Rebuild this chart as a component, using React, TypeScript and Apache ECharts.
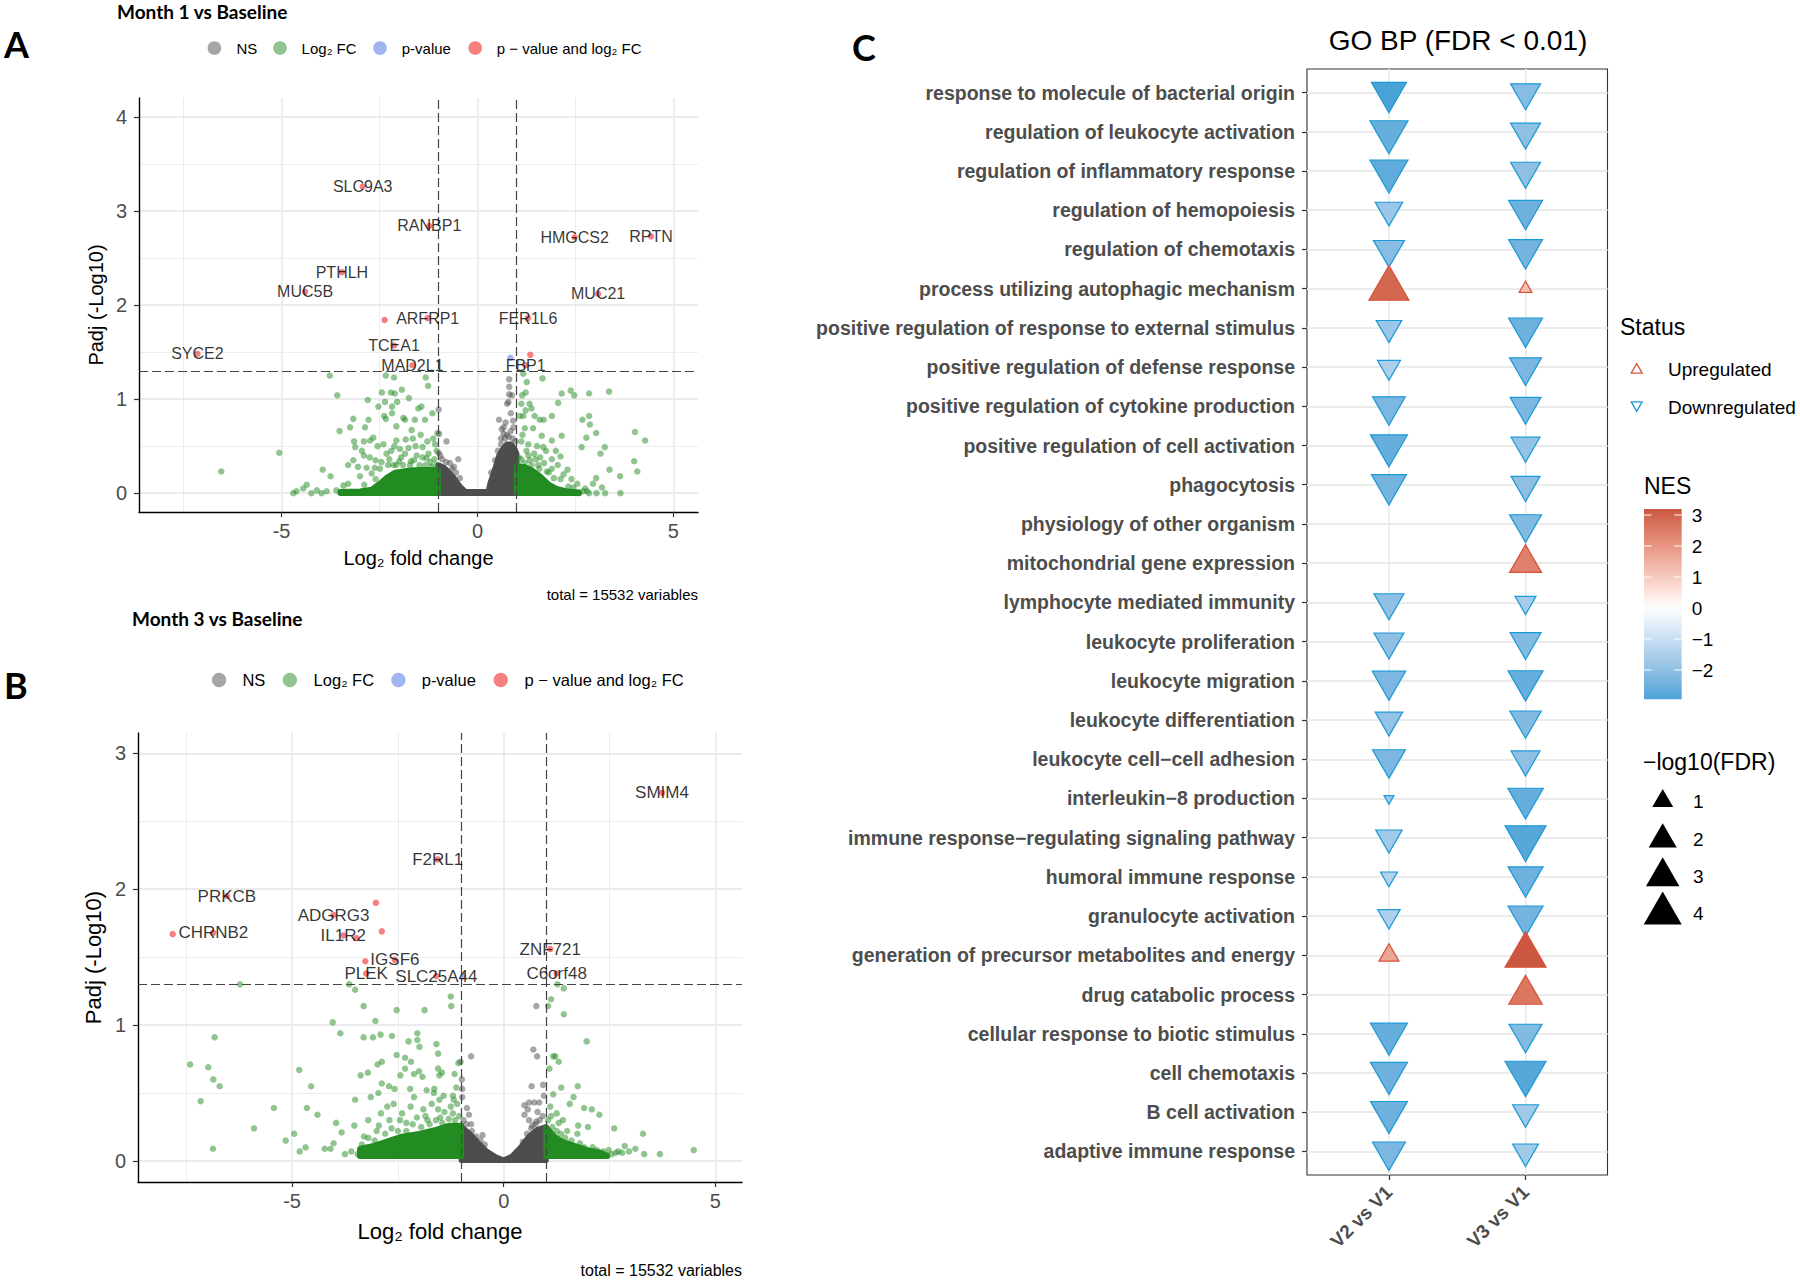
import React, { useEffect, useRef } from "react";
import * as echarts from "echarts";

const FONT = "'Liberation Sans', Arial, Helvetica, sans-serif";
const HEAD_FONT = "Lato, 'Open Sans', 'Liberation Sans', sans-serif";

// ---------------- Volcano plots: ticks / cut-offs ----------------
const volcanoXRange = [-8.64, 5.63];
const volcanoXTicks = [-5, 0, 5];
const volcanoXMinor = [-7.5, -2.5, 2.5];
const aYRange = [-0.2, 4.2];
const aYTicks = [0, 1, 2, 3, 4];
const aYMinor = [0.5, 1.5, 2.5, 3.5];
const bYRange = [-0.155, 3.15];
const bYTicks = [0, 1, 2, 3];
const bYMinor = [0.5, 1.5, 2.5];
const fcCutoffs = [-1, 1];
const pCutoff = 1.3;
const legendLabels = ["NS", "Log₂ FC", "p-value", "p − value and log₂ FC"];

// ---------------- Panel A: Month 1 vs Baseline ----------------
const aNsCore = [[-1, 0], [-1, 0.3], [-0.85, 0.27], [-0.7, 0.21], [-0.6, 0.16], [-0.5, 0.1], [-0.4, 0.05], [-0.3, 0.015], [0.28, 0.015], [0.32, 0.1], [0.4, 0.2], [0.48, 0.3], [0.55, 0.4], [0.65, 0.47], [0.75, 0.52], [0.85, 0.52], [0.95, 0.47], [1, 0.42], [1, 0]];
const aFcCoreLeft = [[-3.5, 0], [-3.5, 0.015], [-3.0, 0.02], [-2.7, 0.04], [-2.5, 0.1], [-2.3, 0.17], [-2.1, 0.22], [-1.8, 0.24], [-1.5, 0.25], [-1.2, 0.25], [-1.0, 0.25], [-1.0, 0]];
const aFcCoreRight = [[1, 0], [1, 0.28], [1.2, 0.28], [1.4, 0.24], [1.6, 0.18], [1.8, 0.1], [2.0, 0.05], [2.3, 0.02], [2.6, 0.01], [2.6, 0]];
const aNs = [
  [-0.99, 0.89], [-0.99, 0.43], [-0.98, 0.63], [-0.79, 0.55], [-0.49, 0.36], [-0.95, 0.4], [-0.6, 0.28], [-0.7, 0.32], [0.81, 1.21], [0.81, 1.13],
  [0.81, 1.05], [0.79, 0.97], [0.55, 0.78], [0.67, 0.7], [0.91, 0.77], [0.75, 0.62], [0.67, 0.63], [0.85, 0.66], [0.92, 0.7], [0.6, 0.58],
  [0.88, 1.04], [0.76, 0.95], [-0.9, 0.36], [-0.8, 0.33], [-0.65, 0.26], [-0.55, 0.22], [-0.45, 0.16], [0.35, 0.22], [0.45, 0.35], [0.52, 0.45],
  [0.6, 0.52], [0.7, 0.58], [0.8, 0.6], [0.9, 0.58], [0.97, 0.55], [0.62, 0.68], [0.72, 0.75], [0.85, 0.85]
];
const aFc = [
  [-6.54, 0.23], [-5.06, 0.43], [-4.7, 0.0], [-4.62, 0.02], [-4.45, 0.05], [-4.36, 0.09], [-4.24, 0.0], [-3.98, 0.0], [-3.95, 0.25], [-3.75, 0.18],
  [-3.77, 1.25], [-3.58, 1.04], [-3.52, 0.66], [-3.42, 0.08], [-3.25, 0.7], [-3.17, 0.79], [-3.15, 0.55], [-3.12, 0.49], [-3.17, 0.35], [-2.87, 0.7],
  [-2.8, 0.99], [-2.78, 0.78], [-2.83, 0.27], [-2.74, 0.56], [-2.66, 0.59], [-2.53, 0.92], [-2.44, 1.07], [-2.36, 0.97], [-2.38, 0.82], [-2.34, 0.79],
  [-2.32, 0.42], [-2.21, 1.07], [-2.18, 0.92], [-2.18, 0.85], [-2.13, 1.23], [-2.11, 1.06], [-2.07, 0.71], [-2.07, 0.56], [-1.93, 1.1], [-2.05, 0.97],
  [-1.89, 0.8], [-1.85, 0.78], [-1.83, 0.57], [-1.68, 0.67], [-1.6, 0.78], [-1.51, 0.9], [-1.43, 0.92], [-1.34, 0.78], [-1.4, 0.49], [-1.32, 1.23],
  [-1.26, 1.14], [-1.3, 0.37], [-1.13, 0.58], [-1.04, 0.45], [-1.02, 0.64], [-1.76, 0.48], [-1.7, 0.34], [-2.07, 0.3], [-2.28, 0.3], [-2.49, 0.26],
  [-2.7, 0.21], [-3.0, 0.18], [-2.89, 0.09], [-1.95, 0.38], [-1.55, 0.4], [-1.2, 0.33], [-2.2, 0.45], [-2.6, 0.35], [-1.45, 0.62], [-2.9, 0.4],
  [-3.3, 0.1], [-2.6, 0.15], [-1.15, 0.85], [-1.75, 1.01], [-2.55, 0.5], [-2.34, 1.25],
  [-3.3, 0.3], [-3.05, 0.28], [-2.95, 0.45], [-2.75, 0.38], [-2.62, 0.27], [-2.45, 0.33], [-2.4, 0.52], [-2.25, 0.36], [-2.15, 0.3], [-2.0, 0.34],
  [-1.98, 0.47], [-1.9, 0.3], [-1.85, 0.42], [-1.72, 0.3], [-1.62, 0.35], [-1.58, 0.5], [-1.48, 0.3], [-1.4, 0.38], [-1.33, 0.3], [-1.25, 0.42],
  [-1.18, 0.28], [-1.1, 0.36], [-1.05, 0.3], [-1.65, 0.58], [-2.12, 0.5], [-2.9, 0.55], [-1.28, 0.55], [-1.08, 0.52], [-3.6, 0.03], [-3.85, 0.02],
  [-4.1, 0.03],
  [1.17, 1.27], [1.66, 1.22], [1.26, 1.18], [1.14, 1.04], [1.23, 1.07], [2.15, 1.06], [2.38, 1.09], [2.47, 1.04], [2.85, 1.06], [3.36, 1.08],
  [1.12, 0.95], [1.33, 0.95], [1.23, 0.88], [1.38, 0.9], [1.17, 0.82], [1.46, 0.82], [1.59, 0.78], [1.69, 0.78], [1.9, 0.82], [2.06, 0.96],
  [2.68, 0.78], [2.85, 0.82], [2.87, 0.73], [3.03, 0.64], [2.78, 0.59], [2.66, 0.49], [3.25, 0.49], [3.14, 0.42], [3.37, 0.25], [3.03, 0.16],
  [3.64, 0.18], [4.02, 0.65], [4.28, 0.56], [4.0, 0.34], [4.08, 0.23], [3.18, 0.06], [3.65, 0.0], [2.85, 0.0], [3.04, 0.0], [3.26, 0.0],
  [2.58, 0.0], [2.15, 0.61], [2.12, 0.39], [1.9, 0.36], [1.64, 0.61], [1.42, 0.69], [1.21, 0.69], [1.9, 0.56], [1.68, 0.49], [1.9, 0.26],
  [2.12, 0.15], [2.32, 0.07], [2.45, 0.06], [1.77, 0.23], [1.33, 0.35], [1.55, 0.3], [1.12, 0.55], [1.08, 0.82], [1.45, 0.42], [1.25, 0.45],
  [1.6, 0.38], [2.0, 0.45], [2.3, 0.25], [1.05, 0.38], [2.75, 0.05], [2.95, 0.1],
  [1.05, 0.3], [1.12, 0.36], [1.2, 0.32], [1.3, 0.4], [1.38, 0.3], [1.48, 0.36], [1.52, 0.5], [1.58, 0.26], [1.7, 0.32], [1.75, 0.45],
  [1.82, 0.22], [1.95, 0.16], [2.05, 0.3], [2.2, 0.2], [2.4, 0.15], [2.55, 0.1], [2.7, 0.02], [1.15, 0.62], [1.3, 0.52], [2.8, 0.02]
];
const aPval = [[0.84, 1.44]];
const aBothUnlabelled = [[-2.37, 1.84], [1.35, 1.47]];
const aGeneNames = ["SLC9A3", "RANBP1", "HMGCS2", "RPTN", "PTHLH", "MUC5B", "MUC21", "ARFRP1", "FER1L6", "TCEA1", "SYCE2", "MAD2L1", "FBP1"];
const aGenePoints = [[-2.93, 3.26], [-1.23, 2.84], [2.48, 2.72], [4.43, 2.73], [-3.46, 2.35], [-4.4, 2.14], [3.08, 2.12], [-1.27, 1.86], [1.29, 1.86], [-2.13, 1.57], [-7.15, 1.48], [-1.66, 1.36], [1.23, 1.36]];

// ---------------- Panel B: Month 3 vs Baseline ----------------
const bNsCore = [[-1, 0.005], [-1, 0.25], [-0.8, 0.2], [-0.6, 0.13], [-0.4, 0.07], [-0.2, 0.03], [0, 0.005], [0.2, 0.035], [0.4, 0.1], [0.6, 0.18], [0.8, 0.23], [1, 0.25], [1, 0.005]];
const bFcCoreLeft = [[-3.4, 0.035], [-3.4, 0.09], [-3.1, 0.11], [-2.8, 0.14], [-2.4, 0.18], [-2.0, 0.2], [-1.6, 0.23], [-1.3, 0.26], [-1.0, 0.26], [-1.0, 0.035]];
const bFcCoreRight = [[1, 0.035], [1, 0.25], [1.2, 0.18], [1.4, 0.14], [1.7, 0.11], [2.0, 0.08], [2.3, 0.06], [2.45, 0.04], [2.45, 0.035]];
const bNs = [
  [-1.02, 0.73], [-0.99, 0.6], [-0.98, 0.53], [-0.98, 0.47], [-0.77, 0.77], [-0.87, 0.39], [-0.82, 0.34], [-0.77, 0.27], [-0.5, 0.19], [0.7, 0.82],
  [0.79, 0.77], [0.77, 1.14], [0.66, 0.55], [0.49, 0.41], [0.6, 0.43], [0.72, 0.43], [0.84, 0.43], [0.49, 0.34], [0.57, 0.38], [0.93, 0.56],
  [0.95, 0.48], [0.77, 0.29], [0.68, 0.26], [-0.95, 0.3], [-0.88, 0.27], [-0.75, 0.22], [-0.65, 0.18], [-0.55, 0.15], [-0.45, 0.12], [0.45, 0.14],
  [0.55, 0.2], [0.65, 0.24], [0.75, 0.27], [0.85, 0.3], [0.92, 0.33], [0.6, 0.3], [0.8, 0.36]
];
const bFc = [
  [-7.41, 0.71], [-7.16, 0.44], [-6.98, 0.69], [-6.86, 0.6], [-6.83, 0.91], [-6.71, 0.55], [-6.87, 0.09], [-6.23, 1.3], [-5.9, 0.24], [-5.43, 0.39],
  [-5.15, 0.15], [-4.95, 0.2], [-4.83, 0.67], [-4.82, 0.07], [-4.68, 0.1], [-4.65, 0.39], [-4.55, 0.55], [-4.4, 0.34], [-4.23, 0.09], [-4.09, 0.09],
  [-4.04, 1.02], [-4.02, 0.13], [-3.96, 0.28], [-3.86, 0.94], [-3.83, 0.21], [-3.65, 1.3], [-3.51, 1.26], [-3.53, 0.26], [-3.51, 0.45], [-3.38, 0.63],
  [-3.31, 1.14], [-3.31, 0.91], [-3.21, 0.65], [-3.14, 0.47], [-3.09, 0.91], [-3.03, 1.03], [-2.96, 0.5], [-2.98, 0.71], [-2.91, 0.93], [-2.88, 0.73],
  [-2.88, 0.57], [-2.71, 0.55], [-2.64, 0.92], [-2.58, 0.53], [-2.53, 1.11], [-2.53, 0.78], [-2.44, 0.63], [-2.33, 0.76], [-2.33, 0.68], [-2.25, 0.88],
  [-2.21, 0.53], [-2.19, 0.73], [-2.12, 0.64], [-2.12, 0.47], [-2.04, 0.89], [-2.04, 0.94], [-2.0, 0.66], [-1.99, 0.84], [-1.87, 1.11], [-1.92, 0.62],
  [-1.82, 0.52], [-1.65, 0.5], [-1.64, 0.53], [-1.59, 0.86], [-1.55, 0.79], [-1.55, 0.68], [-1.52, 0.63], [-1.52, 0.45], [-1.46, 0.65], [-1.42, 0.48],
  [-1.24, 1.14], [-1.25, 1.21], [-1.2, 0.48], [-1.16, 0.64], [-1.18, 0.45], [-1.12, 0.54], [-1.07, 0.72], [-3.2, 0.3], [-2.9, 0.35], [-2.7, 0.3],
  [-2.4, 0.35], [-2.2, 0.4], [-1.9, 0.38], [-1.7, 0.42], [-1.4, 0.36], [-1.2, 0.35], [-2.6, 0.42], [-3.0, 0.22], [-3.3, 0.18], [-1.8, 0.3],
  [-2.3, 0.28], [-1.5, 0.32],
  [-3.35, 0.12], [-3.2, 0.17], [-3.05, 0.15], [-2.95, 0.26], [-2.8, 0.2], [-2.65, 0.24], [-2.5, 0.22], [-2.45, 0.3], [-2.3, 0.22], [-2.15, 0.27],
  [-2.05, 0.32], [-1.95, 0.25], [-1.85, 0.33], [-1.75, 0.27], [-1.6, 0.3], [-1.55, 0.38], [-1.45, 0.28], [-1.3, 0.31], [-1.25, 0.4], [-1.15, 0.3],
  [-1.05, 0.33], [-1.1, 0.42], [-2.75, 0.4], [-3.45, 0.05], [-3.6, 0.07], [-3.75, 0.05],
  [1.27, 1.3], [1.42, 1.27], [1.05, 1.14], [1.12, 1.19], [1.42, 1.08], [1.08, 0.68], [1.17, 0.77], [1.22, 0.77], [1.3, 0.73], [1.17, 0.49],
  [1.36, 0.54], [1.56, 0.42], [1.65, 0.47], [1.75, 0.55], [1.96, 0.88], [1.9, 0.39], [2.08, 0.38], [2.26, 0.34], [1.99, 0.25], [1.74, 0.2],
  [1.76, 0.26], [2.61, 0.24], [3.29, 0.2], [2.86, 0.11], [3.11, 0.09], [3.32, 0.05], [3.69, 0.05], [4.49, 0.08], [2.48, 0.08], [2.71, 0.07],
  [2.96, 0.07], [1.1, 0.4], [1.25, 0.35], [1.4, 0.3], [1.5, 0.22],
  [1.05, 0.3], [1.15, 0.25], [1.25, 0.22], [1.35, 0.2], [1.45, 0.17], [1.6, 0.15], [1.8, 0.13], [1.9, 0.1], [2.1, 0.1], [2.2, 0.08],
  [2.35, 0.07], [2.55, 0.05], [2.65, 0.06], [1.12, 0.33], [1.3, 0.28], [2.8, 0.06]
];
const bPval = [[-0.96, 1.36]];
const bBothUnlabelled = [[-3.02, 1.9], [-2.88, 1.69], [-7.82, 1.67], [-3.48, 1.64], [-3.27, 1.47]];
const bGeneNames = ["SMIM4", "F2RL1", "PRKCB", "ADGRG3", "CHRNB2", "IL1R2", "IGSF6", "PLEK", "SLC25A44", "ZNF721", "C6orf48"];
const bGenePoints = [[3.74, 2.71], [-1.56, 2.22], [-6.54, 1.95], [-4.02, 1.81], [-6.86, 1.68], [-3.79, 1.66], [-2.57, 1.48], [-3.25, 1.38], [-1.59, 1.36], [1.1, 1.56], [1.25, 1.38]];

// ---------------- Panel C: GO BP (FDR < 0.01) ----------------
const goTerms = [
  "response to molecule of bacterial origin",
  "regulation of leukocyte activation",
  "regulation of inflammatory response",
  "regulation of hemopoiesis",
  "regulation of chemotaxis",
  "process utilizing autophagic mechanism",
  "positive regulation of response to external stimulus",
  "positive regulation of defense response",
  "positive regulation of cytokine production",
  "positive regulation of cell activation",
  "phagocytosis",
  "physiology of other organism",
  "mitochondrial gene expression",
  "lymphocyte mediated immunity",
  "leukocyte proliferation",
  "leukocyte migration",
  "leukocyte differentiation",
  "leukocyte cell−cell adhesion",
  "interleukin−8 production",
  "immune response−regulating signaling pathway",
  "humoral immune response",
  "granulocyte activation",
  "generation of precursor metabolites and energy",
  "drug catabolic process",
  "cellular response to biotic stimulus",
  "cell chemotaxis",
  "B cell activation",
  "adaptive immune response",
];
const comparisons = ["V2 vs V1", "V3 vs V1"];
const v2Nes = [-2.94, -2.6, -2.7, -1.8, -2.1, 2.9, -1.8, -1.5, -2.3, -2.6, -2.4, null, null, -2.0, -2.0, -2.3, -1.9, -2.3, -1.7, -1.7, -1.4, -1.5, 1.7, null, -2.6, -2.5, -2.5, -2.3];
const v2LogFdr = [3.33, 4.0, 4.0, 1.91, 2.52, 4.48, 1.61, 1.25, 2.85, 3.77, 3.33, null, null, 2.34, 2.34, 3.01, 1.91, 2.91, 0.12, 1.75, 0.58, 1.18, 0.89, null, 3.77, 3.77, 3.77, 2.91];
const v3Nes = [-2.1, -2.0, -2.0, -2.5, -2.4, 1.2, -2.5, -2.3, -2.3, -1.9, -2.0, -2.2, 2.4, -1.6, -2.2, -2.6, -2.2, -2.0, -2.6, -2.8, -2.5, -2.4, 3.19, 2.6, -2.2, -2.8, -1.7, -1.7];
const v3LogFdr = [2.34, 2.34, 2.34, 3.11, 3.11, 0.28, 3.11, 2.71, 2.52, 2.16, 2.16, 2.71, 2.71, 1.0, 2.52, 3.33, 2.62, 2.16, 3.43, 4.74, 3.33, 3.33, 4.74, 3.01, 2.91, 4.74, 1.67, 1.67];
const nesTicks = [3, 2, 1, 0, -1, -2];
const fdrLegendValues = [1, 2, 3, 4];
const statusLabels = ["Upregulated", "Downregulated"];

// ---------------- colours ----------------
const NS_COL = "#4D4D4D";
const FC_COL = "#228B22";
const P_COL = "#4169E1";
const BOTH_COL = "#EE0000";
const UP_COL = "#D9533C";
const DOWN_COL = "#1A9AD6";
const NES_LOW = "#2E9CD4";
const NES_HIGH = "#CC5740";

function hexToRgb(h: string) {
  const n = parseInt(h.slice(1), 16);
  return [(n >> 16) & 255, (n >> 8) & 255, n & 255];
}
function rgbToLab(c: number[]) {
  const lin = c.map((v) => {
    const s = v / 255;
    return s <= 0.04045 ? s / 12.92 : Math.pow((s + 0.055) / 1.055, 2.4);
  });
  const X = (0.4124 * lin[0] + 0.3576 * lin[1] + 0.1805 * lin[2]) / 0.95047;
  const Y = 0.2126 * lin[0] + 0.7152 * lin[1] + 0.0722 * lin[2];
  const Z = (0.0193 * lin[0] + 0.1192 * lin[1] + 0.9505 * lin[2]) / 1.08883;
  const f = (t: number) => (t > 0.008856 ? Math.cbrt(t) : 7.787 * t + 16 / 116);
  const fx = f(X), fy = f(Y), fz = f(Z);
  return [116 * fy - 16, 500 * (fx - fy), 200 * (fy - fz)];
}
function labToHex(l: number[]) {
  const fy = (l[0] + 16) / 116;
  const fx = fy + l[1] / 500;
  const fz = fy - l[2] / 200;
  const inv = (t: number) => (t * t * t > 0.008856 ? t * t * t : (t - 16 / 116) / 7.787);
  const X = inv(fx) * 0.95047, Y = inv(fy), Z = inv(fz) * 1.08883;
  const r = 3.2406 * X - 1.5372 * Y - 0.4986 * Z;
  const g = -0.9689 * X + 1.8758 * Y + 0.0415 * Z;
  const b = 0.0557 * X - 0.204 * Y + 1.057 * Z;
  const toS = (v: number) => {
    const s = v <= 0.0031308 ? 12.92 * v : 1.055 * Math.pow(v, 1 / 2.4) - 0.055;
    return Math.max(0, Math.min(255, Math.round(s * 255)));
  };
  return "#" + [r, g, b].map((v) => toS(v).toString(16).padStart(2, "0")).join("");
}
const labLow = rgbToLab(hexToRgb(NES_LOW));
const labMid = rgbToLab(hexToRgb("#FFFFFF"));
const labHigh = rgbToLab(hexToRgb(NES_HIGH));
const allNes = [...v2Nes, ...v3Nes].filter((v) => v !== null) as number[];
const nesMin = Math.min(...allNes);
const nesMax = Math.max(...allNes);
const nesAbs = Math.max(Math.abs(nesMin), Math.abs(nesMax));
function nesColor(v: number) {
  const t = 0.5 + v / (2 * nesAbs);
  let a: number[], b: number[], u: number;
  if (t < 0.5) { a = labLow; b = labMid; u = t / 0.5; } else { a = labMid; b = labHigh; u = (t - 0.5) / 0.5; }
  return labToHex([0, 1, 2].map((i) => a[i] + (b[i] - a[i]) * u));
}
const triWidth = (v: number) => 4 + 17 * Math.sqrt(v);

// ---------------- helpers ----------------
function gridLineData(xMaj: number[], xMin: number[], yMaj: number[], yMin: number[]) {
  const maj = { color: "#EBEBEB", width: 1.8, type: "solid" };
  const min = { color: "#EBEBEB", width: 0.9, type: "solid" };
  return [
    ...xMin.map((v) => ({ xAxis: v, lineStyle: min })),
    ...yMin.map((v) => ({ yAxis: v, lineStyle: min })),
    ...xMaj.map((v) => ({ xAxis: v, lineStyle: maj })),
    ...yMaj.map((v) => ({ yAxis: v, lineStyle: maj })),
  ];
}
function lineHolder(ix: number, data: any[], z: number) {
  return {
    type: "scatter", xAxisIndex: ix, yAxisIndex: ix, data: [[0, 0]], symbolSize: 0, silent: true,
    itemStyle: { opacity: 0 }, z,
    markLine: { silent: true, symbol: ["none", "none"], label: { show: false }, z, animation: false, data },
  };
}
function polySeries(ix: number, poly: number[][], color: string) {
  return {
    type: "custom", xAxisIndex: ix, yAxisIndex: ix, data: [[0, 0]], silent: true, z: 2,
    renderItem: (_p: any, api: any) => ({
      type: "polygon",
      shape: { points: poly.map((p) => api.coord(p)) },
      style: { fill: color, stroke: color, lineWidth: 5.5, lineJoin: "round" },
    }),
  };
}
function pointSeries(ix: number, data: number[][], color: string) {
  return {
    type: "scatter", xAxisIndex: ix, yAxisIndex: ix, data, symbolSize: 6.5, silent: true, z: 3,
    itemStyle: { color, opacity: 0.5, borderWidth: 0 },
  };
}
function volcanoSeries(ix: number, d: any) {
  return [
    lineHolder(ix, gridLineData(volcanoXTicks, volcanoXMinor, d.yTicks, d.yMinor), 0),
    polySeries(ix, d.nsCore, NS_COL),
    polySeries(ix, d.fcLeft, FC_COL),
    polySeries(ix, d.fcRight, FC_COL),
    pointSeries(ix, d.ns, NS_COL),
    pointSeries(ix, d.fc, FC_COL),
    pointSeries(ix, d.p, P_COL),
    pointSeries(ix, [...d.both, ...d.genePts], BOTH_COL),
    lineHolder(ix, [
      ...fcCutoffs.map((v) => ({ xAxis: v })),
      { yAxis: pCutoff },
    ].map((o) => ({ ...o, lineStyle: { color: "#444", width: 1.2, type: [9, 4] } })), 4),
    {
      type: "scatter", xAxisIndex: ix, yAxisIndex: ix, silent: true, z: 6, symbolSize: 1,
      itemStyle: { color: "rgba(0,0,0,0)" },
      data: d.geneNames.map((n: string, i: number) => ({ name: n, value: d.genePts[i] })),
      label: { show: true, position: "inside", formatter: "{b}", color: "#000", fontSize: d.geneFont, fontFamily: FONT },
    },
  ];
}
function volcanoAxes(ix: number, yRange: number[], yTicks: number[], tickFont: number, titleFont: number, nameGapX: number, nameGapY: number) {
  const axisLine = { show: true, onZero: false, lineStyle: { color: "#000", width: 1.4 } };
  const tick = { show: true, length: 5, lineStyle: { color: "#333", width: 1.2 } };
  const lab = { color: "#4D4D4D", fontSize: tickFont, fontFamily: FONT };
  return {
    x: {
      gridIndex: ix, type: "value", min: volcanoXRange[0], max: volcanoXRange[1],
      axisLine, axisTick: { ...tick, customValues: volcanoXTicks },
      axisLabel: { ...lab, customValues: volcanoXTicks, margin: 9 },
      splitLine: { show: false },
      name: "Log₂ fold change", nameLocation: "middle", nameGap: nameGapX,
      nameTextStyle: { color: "#000", fontSize: titleFont, fontFamily: FONT },
    },
    y: {
      gridIndex: ix, type: "value", min: yRange[0], max: yRange[1],
      axisLine, axisTick: { ...tick, customValues: yTicks },
      axisLabel: { ...lab, customValues: yTicks, margin: 12 },
      splitLine: { show: false },
      name: "Padj (-Log10)", nameLocation: "middle", nameGap: nameGapY, nameRotate: 90,
      nameTextStyle: { color: "#000", fontSize: titleFont, fontFamily: FONT },
    },
  };
}

function txt(x: number, y: number, text: string, size: number, opts: any = {}) {
  const align = opts.align || "left";
  const va = opts.va || "middle";
  return {
    type: "text", x, y, silent: true, rotation: opts.rotation || 0,
    style: {
      text, fill: opts.color || "#000", fontSize: size, fontFamily: opts.family || FONT,
      fontWeight: opts.weight || "normal", align, verticalAlign: va, textAlign: align, textVerticalAlign: va,
    },
  };
}
function triPoints(cx: number, cy: number, w: number, up: boolean) {
  const h = w * 0.866;
  return up
    ? [[cx, cy - (2 * h) / 3], [cx + w / 2, cy + h / 3], [cx - w / 2, cy + h / 3]]
    : [[cx, cy + (2 * h) / 3], [cx + w / 2, cy - h / 3], [cx - w / 2, cy - h / 3]];
}
function volcanoLegend(circX: number[], textX: number[], y: number, r: number, size: number) {
  const cols = [NS_COL, FC_COL, P_COL, BOTH_COL];
  const out: any[] = [];
  legendLabels.forEach((l, i) => {
    out.push({ type: "circle", silent: true, shape: { cx: circX[i], cy: y, r }, style: { fill: cols[i], opacity: 0.5 } });
    out.push(txt(textX[i], y, l, size));
  });
  return out;
}

export default function App() {
  const ref = useRef<HTMLDivElement>(null);
  useEffect(() => {
    if (!ref.current) return;
    const chart = echarts.init(ref.current, null, { renderer: "svg" });

    const axA = volcanoAxes(0, aYRange, aYTicks, 20, 20, 36, 33);
    const axB = volcanoAxes(1, bYRange, bYTicks, 20, 22, 38, 34);
    const rows = goTerms.map((_, i) => i + 1);

    const triData: any[] = [];
    [[v2Nes, v2LogFdr], [v3Nes, v3LogFdr]].forEach(([nes, fdr], c) => {
      nes.forEach((v, r) => {
        if (v === null || fdr[r] === null) return;
        const w = triWidth(fdr[r] as number);
        const h = w * 0.866;
        const up = (v as number) > 0;
        triData.push({
          value: [c + 1, r + 1],
          symbol: "triangle",
          symbolSize: [w, h],
          symbolRotate: up ? 0 : 180,
          symbolOffset: [0, up ? -h / 6 : h / 6],
          itemStyle: { color: nesColor(v as number), borderColor: up ? UP_COL : DOWN_COL, borderWidth: 1.2, opacity: 1 },
        });
      });
    });

    // colour bar (3 at y=515, -2 at y=670)
    const cbX = 1644, cbW = 37.7;
    const unit = 31;
    const nesY = (v: number) => 515 + (3 - v) * unit;
    const cbY = nesY(nesMax), cbH = nesY(nesMin) - cbY;
    const stops: any[] = [];
    for (let i = 0; i <= 24; i++) {
      const v = nesMax - ((nesMax - nesMin) * i) / 24;
      stops.push({ offset: i / 24, color: nesColor(v) });
    }

    const graphics: any[] = [
      txt(4, 44, "A", 36, { family: HEAD_FONT, weight: "bold" }),
      txt(4, 685, "B", 36, { family: HEAD_FONT, weight: "bold" }),
      txt(852, 47, "C", 36, { family: HEAD_FONT, weight: "bold" }),
      txt(117, 11.5, "Month 1 vs Baseline", 19, { family: HEAD_FONT, weight: "bold" }),
      txt(132, 618, "Month 3 vs Baseline", 19, { family: HEAD_FONT, weight: "bold" }),
      ...volcanoLegend([214.4, 280, 380, 475.2], [236.5, 301.6, 401.7, 496.8], 48, 6.8, 15),
      ...volcanoLegend([219.1, 289.9, 398.4, 500.7], [242.4, 313.6, 421.7, 524.5], 680, 7.2, 16.5),
      txt(698, 594, "total = 15532 variables", 15, { align: "right" }),
      txt(742, 1270, "total = 15532 variables", 16, { align: "right" }),
      txt(1458, 40, "GO BP (FDR < 0.01)", 28, { align: "center" }),
      // Status legend
      txt(1620, 327, "Status", 23),
      { type: "polygon", silent: true, shape: { points: triPoints(1636.7, 370, 11, true) }, style: { fill: "none", stroke: UP_COL, lineWidth: 1.3 } },
      { type: "polygon", silent: true, shape: { points: triPoints(1636.7, 405, 11, false) }, style: { fill: "none", stroke: DOWN_COL, lineWidth: 1.3 } },
      txt(1668, 369, statusLabels[0], 19),
      txt(1668, 407, statusLabels[1], 19),
      // NES colour bar
      txt(1644, 486, "NES", 23),
      { type: "rect", silent: true, shape: { x: cbX, y: cbY, width: cbW, height: cbH }, style: { fill: new echarts.graphic.LinearGradient(0, 0, 0, 1, stops) } },
      ...nesTicks.flatMap((v) => [
        { type: "line", silent: true, shape: { x1: cbX, y1: nesY(v), x2: cbX + 7.5, y2: nesY(v) }, style: { stroke: "#fff", lineWidth: 1 } },
        { type: "line", silent: true, shape: { x1: cbX + cbW - 7.5, y1: nesY(v), x2: cbX + cbW, y2: nesY(v) }, style: { stroke: "#fff", lineWidth: 1 } },
        txt(1691.7, nesY(v), v < 0 ? "−" + Math.abs(v) : String(v), 19),
      ]),
      // size legend
      txt(1643, 762, "−log10(FDR)", 23),
      ...fdrLegendValues.flatMap((v, i) => {
        const cy = [801, 839.5, 876.5, 913.5][i];
        return [
          { type: "polygon", silent: true, shape: { points: triPoints(1662.7, cy, triWidth(v), true) }, style: { fill: "#000" } },
          txt(1693, cy, String(v), 19),
        ];
      }),
    ];

    const option: any = {
      animation: false,
      backgroundColor: "#fff",
      textStyle: { fontFamily: FONT },
      grid: [
        { left: 139, top: 98, width: 559, height: 414 },
        { left: 138, top: 733, width: 604, height: 449 },
        { left: 1307, top: 69, width: 300.5, height: 1106, show: true, borderColor: "#333", borderWidth: 1.1, backgroundColor: "transparent" },
      ],
      xAxis: [
        axA.x,
        axB.x,
        {
          gridIndex: 2, type: "value", min: 0.4, max: 2.6,
          axisLine: { show: false },
          axisTick: { show: true, customValues: [1, 2], length: 5, lineStyle: { color: "#333", width: 1.2 } },
          axisLabel: {
            customValues: [1, 2], formatter: (v: number) => comparisons[Math.round(v) - 1] || "",
            rotate: 45, margin: 14, fontSize: 19, fontWeight: "bold", color: "#4D4D4D", fontFamily: FONT,
          },
          splitLine: { show: false },
        },
      ],
      yAxis: [
        axA.y,
        axB.y,
        {
          gridIndex: 2, type: "value", inverse: true, min: 0.4, max: goTerms.length + 0.6,
          axisLine: { show: false },
          axisTick: { show: true, customValues: rows, length: 5, lineStyle: { color: "#333", width: 1.2 } },
          axisLabel: {
            customValues: rows, formatter: (v: number) => goTerms[Math.round(v) - 1] || "",
            margin: 12, fontSize: 19.5, fontWeight: "bold", color: "#4D4D4D", fontFamily: FONT,
          },
          splitLine: { show: false },
        },
      ],
      series: [
        ...volcanoSeries(0, { yTicks: aYTicks, yMinor: aYMinor, nsCore: aNsCore, fcLeft: aFcCoreLeft, fcRight: aFcCoreRight, ns: aNs, fc: aFc, p: aPval, both: aBothUnlabelled, genePts: aGenePoints, geneNames: aGeneNames, geneFont: 16 }),
        ...volcanoSeries(1, { yTicks: bYTicks, yMinor: bYMinor, nsCore: bNsCore, fcLeft: bFcCoreLeft, fcRight: bFcCoreRight, ns: bNs, fc: bFc, p: bPval, both: bBothUnlabelled, genePts: bGenePoints, geneNames: bGeneNames, geneFont: 17 }),
        lineHolder(2, [
          ...[1, 2].map((v) => ({ xAxis: v, lineStyle: { color: "#EBEBEB", width: 1.8, type: "solid" } })),
          ...rows.map((v) => ({ yAxis: v, lineStyle: { color: "#EBEBEB", width: 1.8, type: "solid" } })),
        ], 0),
        {
          type: "scatter", xAxisIndex: 2, yAxisIndex: 2, silent: true, z: 3, data: triData,
        },
      ],
      graphic: graphics,
    };
    chart.setOption(option);
    return () => chart.dispose();
  }, []);
  return <div ref={ref} style={{ position: "absolute", left: 0, top: 0, width: 1800, height: 1280 }} />;
}
